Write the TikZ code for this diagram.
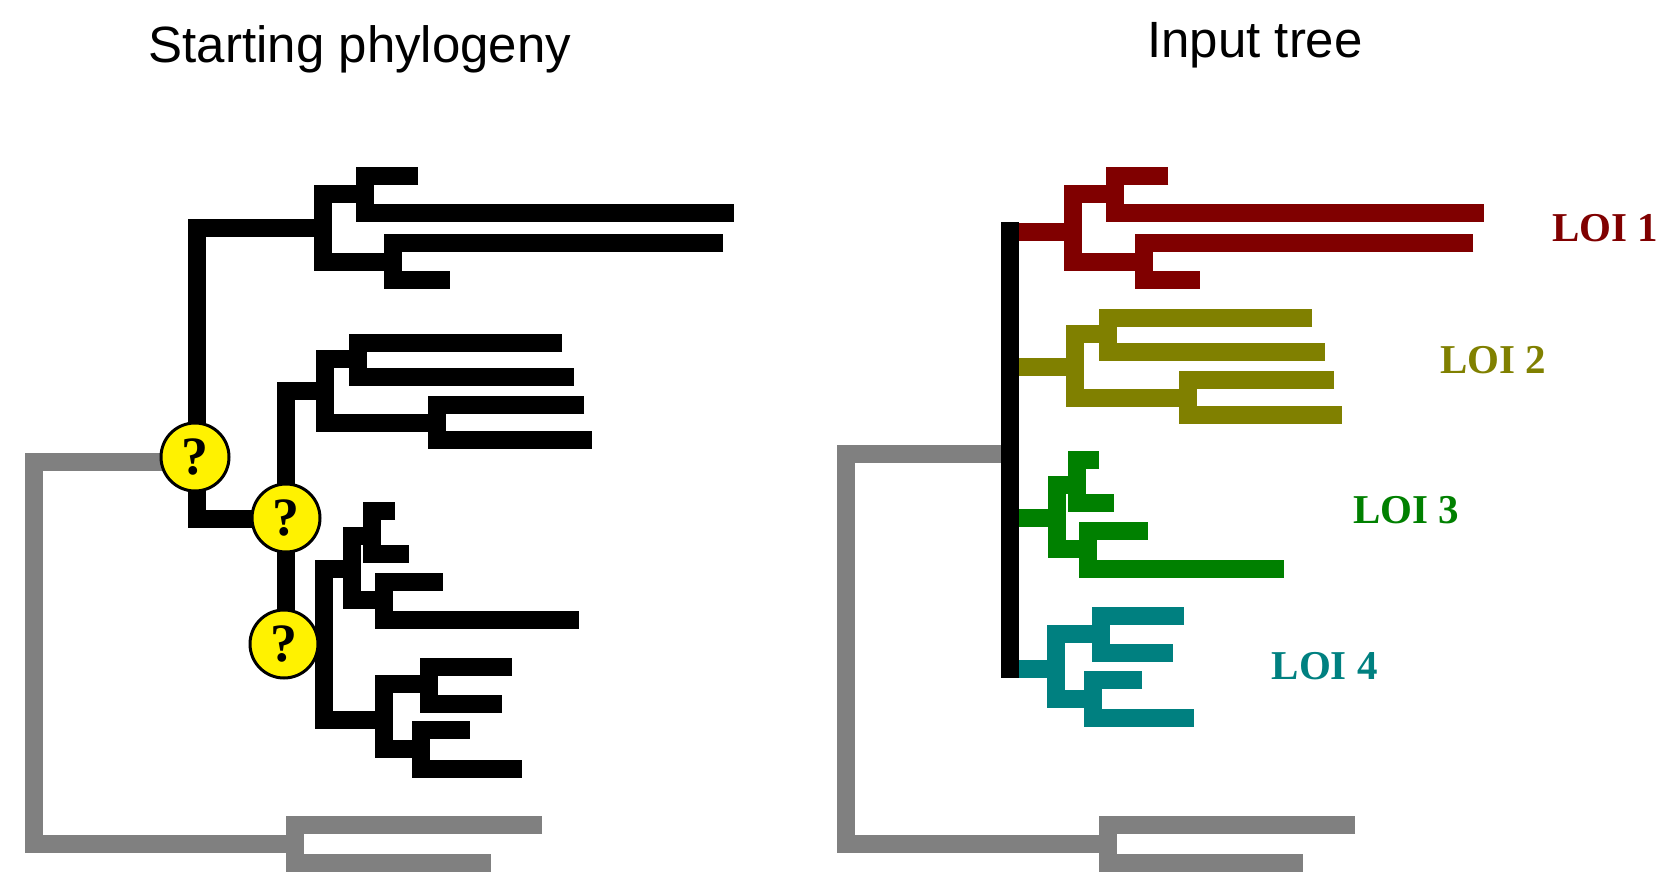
\documentclass[tikz,border=0pt]{standalone}
\usepackage{fontspec}
\setmainfont{Liberation Serif}
\newfontfamily\titlefont{Liberation Sans}
\definecolor{brgray}{RGB}{128,128,128}
\definecolor{loired}{RGB}{128,0,0}
\definecolor{loiolive}{RGB}{128,128,0}
\definecolor{loigreen}{RGB}{0,128,0}
\definecolor{loiteal}{RGB}{0,128,128}
\newcommand{\clade}[6][black]{%
  \draw[branch,#1] (#3,#4) -- (#2,#4) -- (#2,#5) -- (#6,#5);}
\tikzset{
  branch/.style={line width=18pt,line cap=butt,line join=miter},
  qnode/.style={circle,draw=black,line width=3pt,fill=yellow,minimum size=68pt,inner sep=0pt,
    font=\fontsize{54}{54}\selectfont\bfseries},
  title/.style={anchor=base,inner sep=0pt,font=\titlefont\fontsize{51}{60}\selectfont},
  loi/.style={anchor=base west,inner sep=0pt,font=\fontsize{41}{45}\selectfont\bfseries}
}
\begin{document}
\begin{tikzpicture}[x=1pt,y=-1pt]
\useasboundingbox (0,0) rectangle (1680,896);
% titles
\node[title] (t1) at (360,63) {Starting phylogeny};
\node[title] (t2) at (1255,58) {Input tree};

% ---------------- left tree ----------------
\coordinate (q1c) at (195,457);
\coordinate (q2c) at (286,518);
\coordinate (q3c) at (284,644);
% outgroup (gray)
\draw[branch,brgray] (195,461.5) -- (33.5,461.5) -- (33.5,843.5) -- (295,843.5);
\clade[brgray]{295}{542}{825}{863}{490.5}
% Q1 up to clade A
\draw[branch] (197,457) -- (197,228) -- (323,228);
\clade{323}{365}{194}{262}{393}
\clade{365}{418}{176}{213}{734}
\clade{393}{723}{243}{280}{450}
% Q1 down to Q2
\draw[branch] (197,457) -- (197,519) -- (286,519);
% Q2 up to clade B
\draw[branch] (286,518) -- (286,391) -- (325,391);
\clade{325}{357.5}{358.6}{423}{437}
\clade{357.5}{562}{342.7}{377}{574}
\clade{437}{584}{405}{440}{592}
% Q2 down to Q3 and clade C
\draw[branch] (286,518) -- (286,644) -- (324,644);
\clade{324}{352}{568.5}{720}{384}
\clade{352}{372}{536}{600}{383.6}
\clade{372}{395}{511}{554}{408.6}
\clade{383.6}{442.6}{582}{620}{579}
\clade{384}{428.6}{684}{749}{421}
\clade{428.6}{512}{667}{703.5}{501.7}
\clade{421}{469.7}{730}{768.5}{522}
% question nodes
\node[qnode] (q1) at (q1c) {?};
\node[qnode] (q2) at (q2c) {?};
\node[qnode] (q3) at (q3c) {?};

% ---------------- right tree ----------------
\draw[branch,brgray] (1010,453.5) -- (846,453.5) -- (846,843.5) -- (1108,843.5);
\clade[brgray]{1108}{1355}{825}{863}{1303}
% LOI 1
\draw[branch,loired] (1010,231.5) -- (1073,231.5);
\clade[loired]{1073}{1115}{194}{262}{1143.6}
\clade[loired]{1115}{1168.3}{176}{213}{1484.3}
\clade[loired]{1143.6}{1473.3}{243}{280}{1200}
% LOI 2
\draw[branch,loiolive] (1010,367) -- (1075,367);
\clade[loiolive]{1075}{1107.7}{333.5}{398}{1187.5}
\clade[loiolive]{1107.7}{1312}{317.5}{352}{1324.7}
\clade[loiolive]{1187.5}{1334}{379.5}{415}{1342}
% LOI 3
\draw[branch,loigreen] (1010,517.5) -- (1056.7,517.5);
\clade[loigreen]{1056.7}{1077}{484.5}{549}{1088}
\clade[loigreen]{1077}{1099}{460}{503}{1113.5}
\clade[loigreen]{1088}{1147.5}{530.7}{568.7}{1284}
% LOI 4
\draw[branch,loiteal] (1010,669) -- (1056,669);
\clade[loiteal]{1056}{1100.6}{633.7}{698.5}{1093}
\clade[loiteal]{1100.6}{1184}{616}{653}{1173.3}
\clade[loiteal]{1093}{1142}{679.7}{718}{1194}
% black backbone
\draw[branch] (1010,222.3) -- (1010,678.3);
% labels
\node[loi,text=loired] (l1) at (1552,241.7) {LOI 1};
\node[loi,text=loiolive] (l2) at (1440,373.3) {LOI 2};
\node[loi,text=loigreen] (l3) at (1353,523.3) {LOI 3};
\node[loi,text=loiteal] (l4) at (1271.5,679.3) {LOI 4};
\end{tikzpicture}
\end{document}
